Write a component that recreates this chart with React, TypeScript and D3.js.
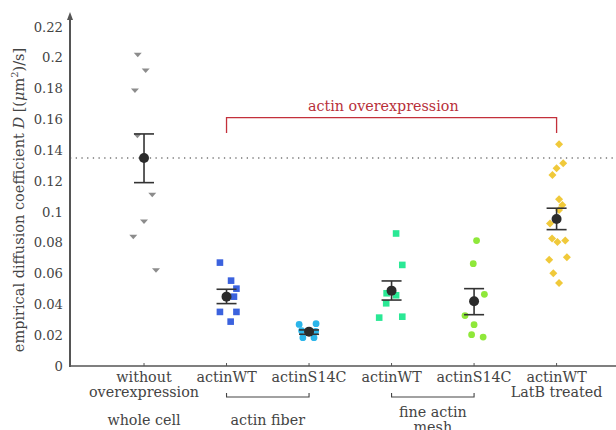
import React from "react";
import * as d3 from "d3";

// category labels (two lines each) and group brackets
const categories = [
  ["without", "overexpression"],
  ["actinWT"],
  ["actinS14C"],
  ["actinWT"],
  ["actinS14C"],
  ["actinWT", "LatB treated"],
];
const groups = [
  { label: ["whole cell"], from: 1, to: 1 },
  { label: ["actin fiber"], from: 2, to: 3 },
  { label: ["fine actin", "mesh"], from: 4, to: 5 },
];
const yTicks = [0, 0.02, 0.04, 0.06, 0.08, 0.1, 0.12, 0.14, 0.16, 0.18, 0.2, 0.22];

// individual cell values and horizontal jitter (in category units)
const wholeCell = [0.202, 0.1918, 0.1788, 0.1494, 0.1112, 0.0937, 0.0838, 0.0621];
const wholeCellJitter = [-0.076, 0.02, -0.11, -0.08, 0.1, 0, -0.13, 0.145];
const fiberWT = [0.0671, 0.0554, 0.0502, 0.045, 0.0351, 0.0351, 0.0288];
const fiberWTJitter = [-0.08, 0.055, 0.12, 0.09, -0.08, 0.12, 0.05];
const fiberS14C = [0.027, 0.0275, 0.0229, 0.0225, 0.0184, 0.0184];
const fiberS14CJitter = [-0.12, 0.085, -0.09, 0.08, -0.075, 0.06];
const meshWT = [0.086, 0.0656, 0.0472, 0.0459, 0.0407, 0.0314, 0.032];
const meshWTJitter = [0.055, 0.13, -0.06, 0.055, -0.065, -0.15, 0.13];
const meshS14C = [0.0814, 0.0664, 0.0465, 0.0327, 0.0268, 0.0203, 0.0188];
const meshS14CJitter = [0.03, -0.01, 0.125, -0.11, 0, -0.03, 0.11];
const latB = [0.1439, 0.1316, 0.1284, 0.124, 0.1082, 0.1045, 0.1013, 0.0924, 0.0827, 0.0805, 0.0814, 0.0706, 0.069, 0.0602, 0.0539];
const latBJitter = [0.03, 0.08, 0, -0.05, 0.03, 0.07, 0.03, -0.08, -0.055, 0.01, 0.105, 0.125, -0.09, -0.04, 0.03];

// mean +- standard error
const means = [0.135, 0.045, 0.0223, 0.0489, 0.042, 0.0954];
const errHigh = [0.1506, 0.0498, 0.0234, 0.0552, 0.0502, 0.1024];
const errLow = [0.119, 0.0405, 0.0206, 0.0428, 0.0333, 0.0885];
const referenceLevel = 0.135;

const series = [
  { values: wholeCell, jitter: wholeCellJitter, color: "#8c8c8c", shape: "triangle" },
  { values: fiberWT, jitter: fiberWTJitter, color: "#3b62de", shape: "square" },
  { values: fiberS14C, jitter: fiberS14CJitter, color: "#2bb5ea", shape: "circle" },
  { values: meshWT, jitter: meshWTJitter, color: "#2ae895", shape: "square" },
  { values: meshS14C, jitter: meshS14CJitter, color: "#8fe83a", shape: "circle" },
  { values: latB, jitter: latBJitter, color: "#f0c93a", shape: "diamond" },
];

const width = 616;
const height = 430;
const font = "'DejaVu Serif', serif";
const textColor = "#444";
const labelSize = 14.3;

const x = d3.scaleLinear().domain([0.103, 6.72]).range([70, 616]);
const y = d3.scaleLinear().domain([0, 0.22]).range([366, 27]);

const marker = (shape: string, cx: number, cy: number, color: string, key: string) => {
  if (shape === "triangle") {
    return <path key={key} d={`M${cx - 4},${cy - 2}L${cx + 4},${cy - 2}L${cx},${cy + 2.5}Z`} fill={color} />;
  }
  if (shape === "square") {
    return <rect key={key} x={cx - 3.3} y={cy - 3.3} width={6.6} height={6.6} fill={color} />;
  }
  if (shape === "circle") {
    return <circle key={key} cx={cx} cy={cy} r={3.4} fill={color} />;
  }
  return <path key={key} d={`M${cx},${cy - 4}L${cx + 4},${cy}L${cx},${cy + 4}L${cx - 4},${cy}Z`} fill={color} />;
};

export default function App() {
  const y0 = y(0);
  const capHalf = 10;
  return (
    <svg
      width={width}
      height={height}
      style={{ position: "absolute", left: 0, top: 0, background: "#fff" }}
      fontFamily={font}
    >
      {/* reference dotted line */}
      <line
        x1={x(0.103)}
        x2={width}
        y1={y(referenceLevel)}
        y2={y(referenceLevel)}
        stroke="#333"
        strokeWidth={1.2}
        strokeDasharray="1.3 4.4"
      />

      {/* axes */}
      <line x1={70} x2={width} y1={y0} y2={y0} stroke="#555" strokeWidth={1.6} />
      <line x1={70} x2={70} y1={y0 + 1} y2={17} stroke="#555" strokeWidth={2} />
      <path d="M67,20L70,12L73,20Z" fill="#555" />
      {yTicks.map((t) => (
        <text key={t} x={63} y={y(t)} dy="0.35em" textAnchor="end" fontSize={13.2} fill={textColor}>
          {d3.format("")(t)}
        </text>
      ))}
      {categories.map((lines, i) => (
        <g key={i}>
          <line x1={x(i + 1)} x2={x(i + 1)} y1={y0} y2={y0 - 3} stroke="#555" strokeWidth={1} />
          {lines.map((l, j) => (
            <text key={j} x={x(i + 1)} y={382 + j * 14.5} textAnchor="middle" fontSize={labelSize} fill={textColor}>
              {l}
            </text>
          ))}
        </g>
      ))}
      {groups.map((g, i) => {
        const mid = (x(g.from) + x(g.to)) / 2;
        const top = g.label.length > 1 ? 417 : 425;
        return (
          <g key={i}>
            {g.from !== g.to && (
              <path
                d={`M${x(g.from)},393V397H${x(g.to)}V393`}
                fill="none"
                stroke="#444"
                strokeWidth={1.1}
              />
            )}
            {g.label.map((l, j) => (
              <text key={j} x={mid} y={top + j * 14.5} textAnchor="middle" fontSize={labelSize} fill={textColor}>
                {l}
              </text>
            ))}
          </g>
        );
      })}

      {/* y label */}
      <text
        transform="translate(24,200) rotate(-90)"
        textAnchor="middle"
        fontSize={14.5}
        fill={textColor}
      >
        empirical diffusion coefficient <tspan fontStyle="italic">D</tspan> [(
        <tspan fontStyle="italic">μ</tspan>m<tspan dy="-6" fontSize={10}>2</tspan>
        <tspan dy="6">)/s]</tspan>
      </text>

      {/* actin overexpression bracket */}
      <path
        d={`M${x(2)},133V117.7H${x(6)}V133`}
        fill="none"
        stroke="#c3303b"
        strokeWidth={1.3}
      />
      <text x={x(3.9)} y={111} textAnchor="middle" fontSize={labelSize} fill="#b8303a">
        actin overexpression
      </text>

      {/* individual points */}
      {series.map((s, i) =>
        s.values.map((v, j) => marker(s.shape, x(i + 1 + s.jitter[j]), y(v), s.color, `${i}-${j}`))
      )}

      {/* mean and standard error */}
      {means.map((m, i) => {
        const cx = x(i + 1);
        return (
          <g key={i} stroke="#333" strokeWidth={1.6}>
            <line x1={cx} x2={cx} y1={y(errLow[i])} y2={y(errHigh[i])} />
            <line x1={cx - capHalf} x2={cx + capHalf} y1={y(errLow[i])} y2={y(errLow[i])} />
            <line x1={cx - capHalf} x2={cx + capHalf} y1={y(errHigh[i])} y2={y(errHigh[i])} />
            <circle cx={cx} cy={y(m)} r={5} fill="#2b2b2b" stroke="none" />
          </g>
        );
      })}
    </svg>
  );
}
